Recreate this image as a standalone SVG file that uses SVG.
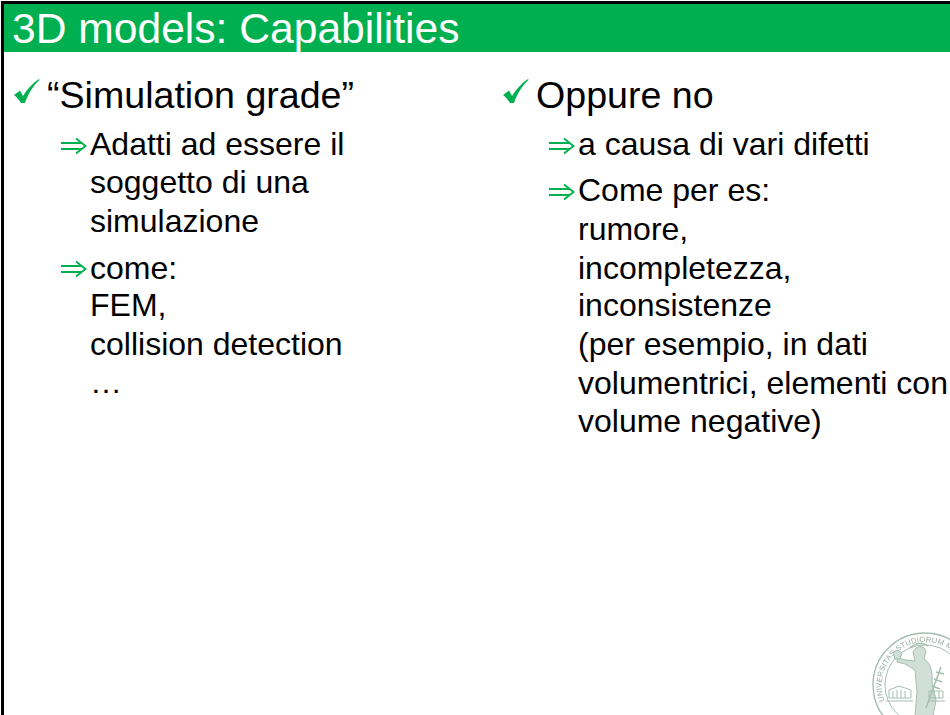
<svg xmlns="http://www.w3.org/2000/svg" width="950" height="715" viewBox="0 0 950 715">
<style>
text{font-family:"Liberation Sans",Arial,sans-serif;fill:#000}
.title{font-size:42.600px;fill:#fff}
.l1{font-size:37.600px}
.l2{font-size:32px}
.ar{fill:none;stroke:#00b050;stroke-width:1.900}
.seal{fill:none;stroke:#a5bdb2}
.fig{fill:#d0dfd8;stroke:#a5bdb2;stroke-width:1}
.st{font-size:7.600px;fill:#93ad9f;letter-spacing:.2px}
</style>
<defs>
<path id="chk" d="M0 16 L6 11.500 L9 17 C13 10 19 4 25 0 L25.500 1 C19 7 14 15 11 24 L7 24 C5 21 3 18 0 16Z" fill="#00b050"/>
<path id="arr" class="ar" d="M0 5 H21 M0 11 H21 M15 0.500 L24.500 8 L15 15.500"/>
<path id="sealarc" d="M884.500 701 A43.500 43.500 0 1 1 968 693"/>
<filter id="soft" x="-10%" y="-10%" width="120%" height="120%"><feGaussianBlur stdDeviation=".45"/></filter>
</defs>
<rect width="950" height="715" fill="#fff"/>
<g id="frame">
<rect x="3" y="4" width="947" height="48" fill="#00b050"/>
<rect x="1" y="1" width="949" height="3" fill="#000"/>
<rect x="1" y="1" width="3" height="714" fill="#000"/>
<text class="title" x="12" y="43">3D models: Capabilities</text>
</g>
<g id="left-column">
<use href="#chk" x="14" y="79"/>
<text class="l1" x="47" y="107.500">“Simulation grade”</text>
<use href="#arr" x="61" y="138"/>
<text class="l2" x="90" y="155">Adatti ad essere il</text>
<text class="l2" x="90" y="193">soggetto di una</text>
<text class="l2" x="90" y="232">simulazione</text>
<use href="#arr" x="61" y="261"/>
<text class="l2" x="90" y="279">come:</text>
<text class="l2" x="90" y="316">FEM,</text>
<text class="l2" x="90" y="355">collision detection</text>
<text class="l2" x="90" y="393">…</text>
</g>
<g id="right-column">
<use href="#chk" x="503" y="79"/>
<text class="l1" x="536" y="107.500">Oppure no</text>
<use href="#arr" x="549" y="138"/>
<text class="l2" x="578" y="155">a causa di vari difetti</text>
<use href="#arr" x="549" y="184"/>
<text class="l2" x="578" y="201">Come per es:</text>
<text class="l2" x="578" y="240">rumore,</text>
<text class="l2" x="578" y="279">incompletezza,</text>
<text class="l2" x="578" y="316">inconsistenze</text>
<text class="l2" x="578" y="355">(per esempio, in dati</text>
<text class="l2" x="578" y="394">volumentrici, elementi con</text>
<text class="l2" x="578" y="432">volume negative)</text>
</g>
<g id="seal" filter="url(#soft)">
<circle class="seal" cx="925" cy="685" r="52" stroke-width="1.400"/>
<circle class="seal" cx="925" cy="685" r="40" stroke-width="1"/>
<text class="st"><textPath href="#sealarc">UNIVERSITAS STUDIORUM MEDIOLANENSIS</textPath></text>
<path class="fig" d="M913 652 C916 645 924 645 926 651 L924 659 C930 662 933 672 932 682 L936 700 L933 716 L915 716 L917 692 L915 670 L905 664 L897 662 L897 658 L906 660 L915 661Z"/>
<path class="seal" stroke-width="1.500" d="M910 648 C915 643 923 642 928 646 M941 667 L926 708 M936 672 L944 674 M934 679 L942 682 M932 686 L940 689"/>
<path class="fig" d="M893 652 l5 -2 l4 3 l-2 6 l-5 0z"/>
<path class="seal" stroke-width="1" d="M889 698 L889 690 L899 686 L911 690 L911 698 Z M893 698 V691 M897 698 V690 M901 698 V690 M905 698 V691 M929 698 V691 L943 691 V698 Z M934 698 V691 M939 698 V691 M886 701 H913 M928 701 H945"/>
</g>
</svg>
